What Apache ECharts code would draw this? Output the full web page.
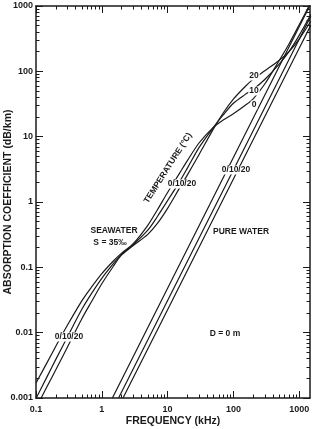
<!DOCTYPE html>
<html>
<head>
<meta charset="utf-8">
<script src="https://cdn.jsdelivr.net/npm/echarts@6/dist/echarts.min.js"></script>
<style>
  html, body { margin: 0; padding: 0; background: #fff; }
  #chart { width: 316px; height: 429px; }
</style>
</head>
<body>
<div id="chart"></div>
<script>
// seawater, S = 35 ppt, D = 0 m : frequency (kHz) and absorption (dB/km)
const seaFreq = [0.1, 0.15, 0.2, 0.3, 0.5, 0.7, 1, 1.5, 2, 3, 5, 7, 10, 15, 20, 30, 50, 70, 100, 150, 200, 300, 500, 700, 1000, 1500];
const sea0  = [0.0017, 0.0036, 0.0062, 0.013, 0.031, 0.05, 0.08, 0.125, 0.165, 0.23, 0.44, 0.76, 1.4, 2.7, 4.3, 8.0, 14, 18, 22.5, 30, 38, 64, 148, 262, 515, 1130];
const sea10 = [0.00098, 0.0022, 0.0039, 0.0086, 0.023, 0.040, 0.068, 0.114, 0.158, 0.222, 0.37, 0.6, 1.05, 2.0, 3.3, 6.8, 14, 21.5, 32.5, 44, 53, 75, 130, 200, 355, 740];
const sea20 = [0.0007, 0.00155, 0.0027, 0.006, 0.0165, 0.030, 0.056, 0.104, 0.155, 0.215, 0.32, 0.47, 0.8, 1.6, 2.6, 5.3, 13.3, 23, 37.5, 58, 76, 102, 148, 200, 312, 585];

// pure water
const pure0Freq  = [1.45, 10, 100, 1000, 1500];
const pure0      = [0.001, 0.048, 4.8, 480, 1080];
const pure10Freq = [1.8, 10, 100, 1000, 1500];
const pure10     = [0.001, 0.031, 3.1, 310, 700];
const pure20Freq = [2.1, 10, 100, 1000, 1500];
const pure20     = [0.001, 0.0225, 2.25, 225, 505];

// axis ticks
const xMajor = [0.1, 1, 10, 100, 1000];
const yMajor = [0.001, 0.01, 0.1, 1, 10, 100, 1000];
const minorSteps = [2, 3, 4, 5, 6, 7, 8, 9];
const minorOf = decades => decades.flatMap(d => minorSteps.map(m => d * m));
const xMinor = minorOf([0.1, 1, 10, 100]);
const yMinor = minorOf([0.001, 0.01, 0.1, 1, 10, 100]);

const ink = '#1a1a1a';
const font = 'Liberation Sans, Arial, sans-serif';

const pairs = (xs, ys) => xs.map((x, i) => [x, ys[i]]);

function logAxis(pos, ticks, len, opts) {
  const vertical = pos === 'left' || pos === 'right';
  return Object.assign({
    type: 'log',
    position: pos,
    min: vertical ? 0.001 : 0.1,
    max: vertical ? 1000 : 1460,
    axisLine: { show: false, onZero: false, lineStyle: { color: ink, width: 1.5 } },
    axisTick: { show: true, inside: true, length: len, customValues: ticks, lineStyle: { color: ink, width: 1 } },
    axisLabel: { show: false },
    splitLine: { show: false },
    minorTick: { show: false }
  }, opts || {});
}

const labelStyle = {
  show: true,
  color: ink,
  fontSize: 9,
  fontWeight: 'bold',
  fontFamily: font,
  formatter: v => String(v)
};

const chart = echarts.init(document.getElementById('chart'));

function lineSeries(name, data, smooth) {
  return {
    name: name,
    type: 'line',
    data: data,
    xAxisIndex: 0,
    yAxisIndex: 0,
    symbol: 'none',
    smooth: smooth ? 0.3 : false,
    clip: true,
    lineStyle: { color: ink, width: 1.2 }
  };
}

function note(text, x, y, size, extra) {
  return Object.assign({
    type: 'text',
    x: x,
    y: y,
    z: 100,
    style: Object.assign({
      text: text,
      fill: ink,
      font: 'bold ' + size + 'px ' + font,
      textAlign: 'center',
      textVerticalAlign: 'middle'
    }, (extra && extra.style) || {})
  }, extra && extra.rotation !== undefined ? { rotation: extra.rotation } : {});
}

const gap = { backgroundColor: '#fff', padding: [0, 1] };

chart.setOption({
  animation: false,
  backgroundColor: '#fff',
  grid: { left: 36, right: 6, top: 6, bottom: 31, containLabel: false, outerBoundsMode: 'none' },
  xAxis: [
    logAxis('bottom', xMajor, 7, {
      axisLine: { show: true, onZero: false, lineStyle: { color: ink, width: 1.5 } },
      axisLabel: Object.assign({ customValues: xMajor, margin: 7 }, labelStyle),
      name: 'FREQUENCY (kHz)',
      nameLocation: 'middle',
      nameGap: 18,
      nameMoveOverlap: false,
      nameTextStyle: { color: ink, fontSize: 10.5, fontWeight: 'bold', fontFamily: font }
    }),
    logAxis('bottom', xMinor, 3.5),
    logAxis('top', xMajor, 7, {
      axisLine: { show: true, onZero: false, lineStyle: { color: ink, width: 1.5 } }
    }),
    logAxis('top', xMinor, 3.5)
  ],
  yAxis: [
    logAxis('left', yMajor, 7, {
      axisLine: { show: true, onZero: false, lineStyle: { color: ink, width: 1.5 } },
      axisLabel: Object.assign({ customValues: yMajor, margin: 3 }, labelStyle),
      name: 'ABSORPTION COEFFICIENT (dB/km)',
      nameLocation: 'middle',
      nameGap: 22,
      nameMoveOverlap: false,
      nameTextStyle: { color: ink, fontSize: 10.5, fontWeight: 'bold', fontFamily: font }
    }),
    logAxis('left', yMinor, 3.5),
    logAxis('right', yMajor, 7, {
      axisLine: { show: true, onZero: false, lineStyle: { color: ink, width: 1.5 } }
    }),
    logAxis('right', yMinor, 3.5)
  ],
  series: [
    lineSeries('sea 0', pairs(seaFreq, sea0), true),
    lineSeries('sea 10', pairs(seaFreq, sea10), true),
    lineSeries('sea 20', pairs(seaFreq, sea20), true),
    lineSeries('pure 0', pairs(pure0Freq, pure0), false),
    lineSeries('pure 10', pairs(pure10Freq, pure10), false),
    lineSeries('pure 20', pairs(pure20Freq, pure20), false)
  ],
  graphic: [
    note('SEAWATER', 114, 231, 8.5),
    note('S = 35‰', 110, 243, 8.5),
    note('TEMPERATURE (°C)', 168, 168, 8.5, { rotation: 57.5 * Math.PI / 180 }),
    note('0/10/20', 182, 184, 8.5, { style: gap }),
    note('0/10/20', 236, 170, 8.5, { style: gap }),
    note('0/10/20', 69, 337, 8.5, { style: gap }),
    note('20', 254, 76, 8.5, { style: gap }),
    note('10', 254, 91, 8.5, { style: gap }),
    note('0', 254, 105, 8.5, { style: gap }),
    note('PURE WATER', 241, 232, 8.5),
    note('D = 0 m', 225, 334, 8.5)
  ]
});
</script>
</body>
</html>
